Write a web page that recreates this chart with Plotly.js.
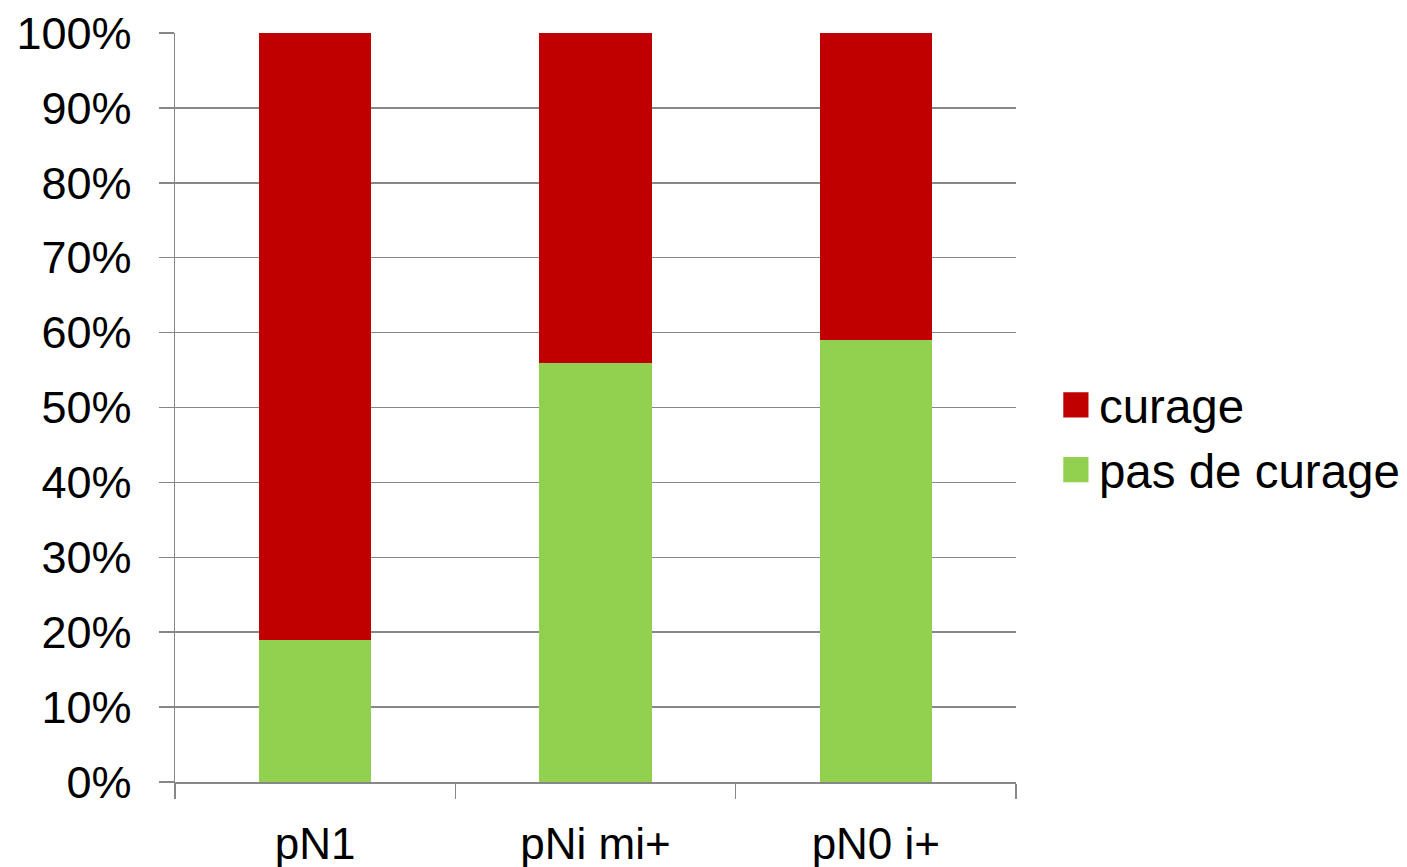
<!DOCTYPE html>
<html>
<head>
<meta charset="utf-8">
<script src="https://cdn.plot.ly/plotly-3.0.1.min.js"></script>
<style>
  html, body { margin: 0; padding: 0; background: #fff; }
  #chart { width: 1407px; height: 867px; }
</style>
</head>
<body>
<div id="chart"></div>
<script>
// Catégories de stade ganglionnaire
const categories = ['pN1', 'pNi mi+', 'pN0 i+'];
// Part des patientes sans curage (%)
const pasDeCurage = [18.9, 55.9, 59.0];
// Part des patientes avec curage (%)
const curage = [81.1, 44.1, 41.0];
const yTicks = [0, 10, 20, 30, 40, 50, 60, 70, 80, 90, 100];

const FONT = 'Liberation Sans, Arial, sans-serif';
const GRID = '#878787';

const traces = [
  {
    type: 'bar', name: 'pas de curage', x: categories, y: pasDeCurage,
    marker: { color: '#92D050' }, legendgroup: 'a', hoverinfo: 'skip'
  },
  {
    type: 'bar', name: 'curage', x: categories, y: curage,
    marker: { color: '#C00000' }, legendgroup: 'b', hoverinfo: 'skip'
  }
];

const layout = {
  width: 1407, height: 867,
  margin: { l: 175, r: 391, t: 33, b: 85, autoexpand: false },
  paper_bgcolor: '#fff', plot_bgcolor: '#fff',
  barmode: 'stack',
  bargap: 0.6,
  font: { family: FONT, color: '#000', size: 45 },
  showlegend: true,
  legend: {
    x: 1.051, xanchor: 'left', y: 0.46, yanchor: 'middle',
    traceorder: 'reversed', tracegroupgap: 19,
    font: { family: FONT, size: 47.5, color: '#000' },
    bgcolor: 'rgba(0,0,0,0)'
  },
  xaxis: {
    type: 'category',
    tickson: 'boundaries',
    ticks: 'outside', ticklen: 15, tickwidth: 1.5, tickcolor: GRID,
    showline: true, linecolor: GRID, linewidth: 1.5,
    showgrid: false, zeroline: false,
    tickfont: { family: FONT, size: 44, color: '#000' },
    ticklabelstandoff: 23
  },
  yaxis: {
    range: [0, 100],
    tickvals: yTicks,
    ticktext: yTicks.map(v => v + '%'),
    ticks: 'outside', ticklen: 15, tickwidth: 1.5, tickcolor: GRID,
    showline: true, linecolor: GRID, linewidth: 1.5,
    showgrid: true, gridcolor: GRID, gridwidth: 1.5,
    zeroline: false,
    tickfont: { family: FONT, size: 45, color: '#000' },
    ticklabelstandoff: 18
  }
};

Plotly.newPlot('chart', traces, layout, { staticPlot: true }).then(gd => {
  // enlarge the legend colour swatches
  gd.querySelectorAll('.legendpoints path').forEach(p => {
    p.setAttribute('transform', 'translate(17,0) scale(2.1)');
  });
});
</script>
</body>
</html>
